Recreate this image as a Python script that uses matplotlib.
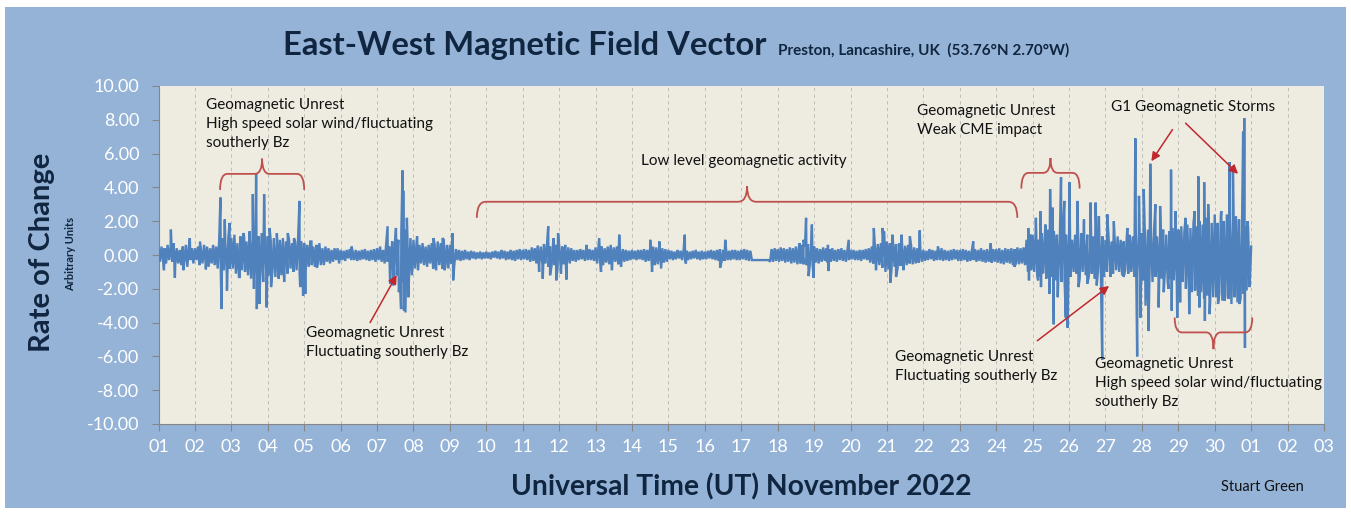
import matplotlib
matplotlib.use("Agg")
import matplotlib.pyplot as plt
import numpy as np
from matplotlib.path import Path
from matplotlib.patches import PathPatch, Rectangle

plt.rcParams['font.family'] = ['Lato', 'DejaVu Sans']

# --- data ----------------------------------------------------------------
# trace, 24 samples a day (hourly), one row per day
trace_nov01_07 = [
    0.3, -0.4, 0.5, -0.3, 0.4, -0.5, 0.6, -0.3, 0.5, -0.4, 0.7, -0.6, 0.4, -0.5, 0.3, -0.6, 0.5, -0.4, 0.6, -0.7, 0.5, -0.3, 0.4, -0.5,
    0.4, -0.3, 0.5, -0.6, 0.3, -0.5, 0.6, -0.4, 0.5, -0.7, 0.4, -0.5, 0.6, -0.6, 0.5, -0.8, 0.9, -0.7, 1.0, -0.9, 0.8, -1.1, 1.0, -0.8,
    1.0, -0.8, 1.2, -1.1, 0.7, -1.3, 1.1, -0.9, 1.3, -1.0, 0.8, -1.2, 1.2, -1.4, 1.0, -1.2, 1.4, -1.5, 1.1, -1.3, 1.3, -1.6, 1.2, -1.1,
    1.1, -1.2, 0.8, -1.0, 1.0, -1.3, 0.7, -1.1, 0.9, -1.2, 1.0, -0.9, 0.8, -1.1, 0.9, -0.8, 0.7, -1.0, 0.8, -0.9, 1.0, -1.1, 0.8, -1.2,
    0.7, -0.9, 0.6, -0.7, 0.8, -0.6, 0.5, -0.7, 0.6, -0.5, 0.7, -0.6, 0.4, -0.6, 0.5, -0.4, 0.4, -0.5, 0.3, -0.4, 0.4, -0.3, 0.4, -0.5,
    0.3, -0.3, 0.25, -0.35, 0.3, -0.2, 0.35, -0.3, 0.2, -0.3, 0.3, -0.35, 0.25, -0.3, 0.3, -0.25, 0.35, -0.3, 0.25, -0.35, 0.3, -0.3, 0.35, -0.4,
    0.4, -0.3, 0.5, -0.4, 0.3, -0.5, 0.6, -0.4, 0.5, -0.6, 0.8, -0.9, 1.0, -1.2, 0.9, -1.4, 1.3, -1.6, 1.5, -1.8, 1.2, -1.5, 1.0, -1.2,
]
trace_nov08_14 = [
    0.9, -0.8, 0.7, -0.9, 0.6, -0.5, 0.7, -0.6, 0.5, -0.7, 0.6, -0.5, 0.7, -0.8, 0.6, -0.7, 0.8, -0.6, 0.7, -0.8, 0.9, -0.7, 0.6, -0.8,
    0.6, -0.5, 0.4, -0.5, 0.35, -0.3, 0.3, -0.35, 0.25, -0.3, 0.3, -0.25, 0.2, -0.3, 0.25, -0.2, 0.2, -0.25, 0.15, -0.2, 0.2, -0.25, 0.15, -0.2,
    0.2, -0.2, 0.15, -0.25, 0.2, -0.15, 0.25, -0.2, 0.2, -0.25, 0.3, -0.2, 0.25, -0.3, 0.2, -0.25, 0.3, -0.3, 0.25, -0.35, 0.3, -0.25, 0.35, -0.3,
    0.3, -0.25, 0.35, -0.3, 0.3, -0.4, 0.45, -0.35, 0.4, -0.5, 0.55, -0.45, 0.5, -0.6, 0.65, -0.5, 0.6, -0.7, 0.5, -0.65, 0.7, -0.6, 0.6, -0.75,
    0.6, -0.7, 0.5, -0.55, 0.6, -0.5, 0.45, -0.5, 0.4, -0.35, 0.3, -0.4, 0.3, -0.3, 0.35, -0.25, 0.3, -0.35, 0.4, -0.3, 0.35, -0.3, 0.3, -0.35,
    0.45, -0.5, 0.55, -0.4, 0.5, -0.6, 0.4, -0.45, 0.5, -0.55, 0.6, -0.5, 0.45, -0.4, 0.5, -0.55, 0.4, -0.45, 0.35, -0.4, 0.3, -0.35, 0.25, -0.3,
    0.3, -0.25, 0.25, -0.3, 0.3, -0.25, 0.3, -0.3, 0.35, -0.4, 0.3, -0.35, 0.45, -0.5, 0.5, -0.6, 0.45, -0.55, 0.5, -0.5, 0.4, -0.45, 0.35, -0.4,
]
trace_nov15_21 = [
    0.3, -0.25, 0.25, -0.3, 0.2, -0.25, 0.3, -0.2, 0.25, -0.3, 0.3, -0.25, 0.25, -0.3, 0.2, -0.25, 0.25, -0.2, 0.3, -0.25, 0.2, -0.3, 0.25, -0.25,
    0.2, -0.25, 0.25, -0.2, 0.3, -0.25, 0.25, -0.3, 0.3, -0.35, 0.35, -0.4, 0.3, -0.35, 0.35, -0.3, 0.25, -0.3, 0.3, -0.25, 0.3, -0.3, 0.25, -0.3,
    0.3, -0.25, 0.35, -0.3, 0.3, -0.35, 0.25, -0.3, -0.3, -0.3, -0.3, -0.3, -0.3, -0.3, -0.3, -0.3, -0.3, -0.3, -0.3, -0.4, 0.35, -0.4, 0.4, -0.35,
    0.35, -0.4, 0.45, -0.35, 0.4, -0.45, 0.35, -0.4, 0.45, -0.5, 0.4, -0.45, 0.5, -0.55, 0.45, -0.5, 0.6, -0.55, 0.5, -0.6, 0.65, -0.7, 0.55, -0.6,
    0.5, -0.45, 0.4, -0.5, 0.35, -0.4, 0.45, -0.35, 0.4, -0.45, 0.35, -0.4, 0.4, -0.35, 0.3, -0.4, 0.35, -0.3, 0.4, -0.35, 0.3, -0.4, 0.35, -0.3,
    0.3, -0.25, 0.3, -0.3, 0.25, -0.3, 0.3, -0.35, 0.3, -0.25, 0.35, -0.3, 0.4, -0.45, 0.5, -0.5, 0.6, -0.55, 0.65, -0.6, 0.7, -0.75, 0.65, -0.8,
    0.8, -0.85, 0.7, -0.9, 0.75, -0.7, 0.65, -0.8, 0.7, -0.65, 0.6, -0.7, 0.55, -0.6, 0.6, -0.5, 0.5, -0.55, 0.45, -0.5, 0.4, -0.45, 0.35, -0.4,
]
trace_nov22_30 = [
    0.3, -0.35, 0.25, -0.3, 0.35, -0.25, 0.3, -0.35, 0.25, -0.3, 0.35, -0.3, 0.4, -0.35, 0.3, -0.3, 0.25, -0.35, 0.3, -0.3, 0.35, -0.25, 0.3, -0.35,
    0.3, -0.35, 0.35, -0.3, 0.3, -0.4, 0.25, -0.35, 0.3, -0.3, 0.35, -0.4, 0.3, -0.35, 0.4, -0.4, 0.3, -0.45, 0.35, -0.4, 0.3, -0.45, 0.35, -0.4,
    0.35, -0.45, 0.4, -0.5, 0.3, -0.55, 0.4, -0.45, 0.35, -0.5, 0.4, -0.6, 0.35, -0.5, 0.45, -0.55, 0.4, -0.5, 0.45, -0.6, 0.9, -1.0, 1.1, -0.9,
    1.2, -1.0, 1.4, -1.2, 0.9, -1.3, 1.3, -1.1, 1.1, -1.4, 1.5, -1.2, 1.0, -1.3, 1.4, -1.5, 1.2, -1.1, 1.3, -1.6, 1.5, -1.3, 1.2, -1.5,
    1.1, -1.3, 0.9, -1.0, 1.2, -1.1, 1.0, -1.4, 1.3, -1.0, 0.9, -1.2, 1.2, -1.3, 1.0, -1.1, 1.1, -1.4, 1.3, -1.0, 1.0, -1.2, 1.1, -1.3,
    0.9, -1.0, 1.1, -0.8, 0.8, -1.1, 1.0, -0.9, 1.1, -1.0, 0.9, -1.2, 0.8, -0.9, 1.0, -1.1, 1.2, -1.0, 1.1, -1.3, 1.3, -1.2, 1.4, -1.5,
    1.3, -1.5, 1.1, -1.3, 1.5, -1.2, 1.2, -1.6, 1.4, -1.3, 1.1, -1.5, 1.3, -1.4, 1.5, -1.2, 1.2, -1.6, 1.4, -1.4, 1.6, -1.5, 1.3, -1.7,
    1.5, -1.8, 1.7, -1.6, 1.4, -2.0, 1.8, -1.9, 1.6, -2.2, 1.9, -2.1, 1.7, -2.4, 2.0, -2.2, 1.8, -2.6, 2.2, -2.4, 2.1, -2.7, 1.9, -2.5,
    2.1, -2.5, 1.9, -2.3, 2.3, -2.7, 2.0, -2.4, 2.4, -2.6, 2.2, -2.9, 2.0, -2.5, 2.3, -2.8, 2.1, -2.6, 1.9, -2.3, 1.7, -2.1, 1.6, -1.9,
]

# individual spikes: days after 1 Nov 00:00 UT and value
spike_day = [
    0.15, 0.34, 0.45, 0.68, 0.86,
    1.14, 1.30, 1.70, 1.73, 1.82, 1.88, 1.95,
    2.23, 2.35, 2.50, 2.59, 2.62, 2.68, 2.70, 2.77, 2.90, 2.97,
    3.05, 3.09, 3.25, 3.30, 3.45, 3.55, 3.72, 3.87, 3.89, 3.97,
    4.03, 4.20, 4.35, 5.30,
    6.29, 6.36, 6.45, 6.52, 6.60, 6.66, 6.70, 6.72, 6.74, 6.78, 6.82, 6.86,
    7.10, 7.55, 7.62, 7.80, 7.85, 8.07, 8.09,
    10.45, 10.55, 10.70, 10.75, 10.85, 10.92, 10.97,
    11.05, 11.20, 11.75, 12.10, 12.15, 12.45, 12.65, 12.70,
    13.50, 13.55, 13.75, 13.80, 14.45, 14.48, 15.42, 15.56,
    17.60, 17.71, 17.78, 17.85, 17.94, 17.99, 18.38, 18.40, 18.95,
    19.64, 19.70, 19.88, 19.92, 19.96,
    20.09, 20.15, 20.25, 20.40, 20.45, 20.63, 20.90, 21.40, 22.37, 22.85,
    23.50, 23.88, 23.90, 23.95,
    24.09, 24.15, 24.21, 24.23, 24.35, 24.46, 24.48, 24.55, 24.58, 24.69,
    24.78, 24.87, 24.91, 24.96,
    25.01, 25.23, 25.26, 25.41, 25.50, 25.59, 25.73, 25.76, 25.82, 25.91,
    26.05, 26.14, 26.23, 26.50, 26.60, 26.82, 26.87, 26.92, 26.96,
    27.05, 27.10, 27.18, 27.23, 27.37, 27.46, 27.50, 27.60, 27.73, 27.80,
    27.82, 27.92, 27.97,
    28.05, 28.20, 28.30, 28.45, 28.55, 28.58, 28.71, 28.73, 28.82, 28.86,
    29.00, 29.09, 29.18, 29.27, 29.41, 29.50, 29.55, 29.68, 29.78, 29.81,
    29.83, 29.90, 29.95, 30.00,
]
spike_value = [
    -0.9, 1.5, -1.35, -0.9, 1.0,
    0.8, -0.85, 3.4, -3.2, 2.1, -2.1, 1.9,
    -1.3, 1.1, 1.4, 3.6, -2.0, 4.8, -3.2, -2.9, 3.6, -3.1,
    1.6, -1.9, 1.3, -1.4, -1.6, 1.3, 1.0, 3.2, -1.9, -2.4,
    -2.3, 0.8, -0.75, 0.5,
    1.7, -1.7, -1.8, 1.6, -2.2, -3.2, 5.0, 3.8, -3.3, -3.4, 2.2, -2.5,
    1.1, 1.0, -0.9, 1.0, -0.9, 1.3, -1.5,
    -1.0, -1.4, 1.7, -1.2, 1.0, -1.5, 1.3,
    -1.1, -1.45, 0.6, 1.0, -1.0, -0.9, 1.2, -0.7,
    0.9, -1.0, 0.8, -0.8, 1.2, -0.5, -0.75, 0.9,
    0.7, 0.9, 2.2, -1.25, 1.8, -1.35, 0.6, -0.95, 0.9,
    1.6, -0.9, 1.6, 1.4, -1.0,
    -1.65, 1.2, -1.3, 1.2, -0.9, 1.1, 1.45, 0.5, 0.8, 0.7,
    -0.7, 1.6, -1.5, 1.2,
    2.2, -1.5, 2.6, -1.9, 1.8, -2.3, 3.9, 2.8, -4.1, -2.5,
    4.6, 3.2, -3.7, -4.3,
    4.3, 3.2, -1.9, 2.1, -1.7, 3.1, 3.1, -1.8, 2.3, -6.2,
    2.4, -1.3, 2.0, -1.3, 1.6, 6.9, -6.0, 3.5, -3.7,
    3.9, -3.0, -4.5, 5.4, 3.0, -3.1, 2.9, -2.2, -2.0, 5.05,
    -3.3, 2.6, -3.7,
    -2.8, 2.2, -3.5, 2.6, 4.65, -3.1, 4.3, -3.9, 3.0, -3.5,
    2.4, -2.9, 2.6, -2.7, 5.5, 4.95, -2.0, -2.9, 7.3, 8.1,
    -5.5, 2.0, -1.5, 0.5,
]

tick_labels = ['%02d' % d for d in range(1, 31)] + ['01', '02', '03']
samples_per_day = 24

# --- colours -------------------------------------------------------------
BLUE_BG = '#95B3D7'
PLOT_BG = '#EEECE1'
LINE = '#4F81BD'
NAVY = '#10253F'
RED = '#C0504D'
ARROW = '#C0282D'
GREY = '#868686'

W, H = 1351, 515
fig = plt.figure(figsize=(W / 100, H / 100), dpi=100, facecolor='white')
fig.patches.append(Rectangle((5 / W, 7 / H), 1341 / W, 501 / H,
                             transform=fig.transFigure, facecolor=BLUE_BG,
                             edgecolor='none', zorder=-10))


def px(x, y):
    # pixel position in the picture (from top left) -> figure fraction
    return x / W, 1 - y / H


ax = fig.add_axes([158.5 / W, (H - 424) / H, (1324 - 158.5) / W, (424 - 86) / H])
ax.set_facecolor(PLOT_BG)

# signal: hourly trace with the spikes merged in by time
trace = np.array(trace_nov01_07 + trace_nov08_14 + trace_nov15_21 + trace_nov22_30)
trace_t = np.arange(len(trace)) / samples_per_day
t = np.concatenate([trace_t, spike_day])
v = np.concatenate([trace, spike_value])
order = np.argsort(t, kind='stable')
ax.plot(t[order], v[order], color=LINE, lw=1.7, solid_joinstyle='miter', zorder=3)

ax.set_xlim(0, 32)
ax.set_ylim(-10, 10)
ax.set_xticks(np.arange(len(tick_labels)))
ax.set_xticklabels(tick_labels)
ax.set_yticks(np.arange(-10, 11, 2))
ax.yaxis.set_major_formatter(lambda val, pos: f'{val:.2f}')
ax.tick_params(axis='y', colors=GREY, labelcolor='white', labelsize=13,
               length=5, width=0.8, pad=9)
ax.tick_params(axis='x', colors=GREY, labelcolor='white', labelsize=13,
               length=5, width=0.8, pad=6)
ax.grid(axis='x', color='#B4B4B4', ls=(0, (4, 4)), lw=0.6)
for side in ['top', 'right']:
    ax.spines[side].set_visible(False)
for side in ['left', 'bottom']:
    ax.spines[side].set_color(GREY)
    ax.spines[side].set_linewidth(0.8)


def brace(x0, x1, y, y_end, y_tip, rx):
    xm = (x0 + x1) / 2
    verts = [(x0, y_end), (x0, y), (x0 + rx, y), (xm - rx, y), (xm, y), (xm, y_tip),
             (xm, y), (xm + rx, y), (x1 - rx, y), (x1, y), (x1, y_end)]
    codes = [Path.MOVETO, Path.CURVE3, Path.CURVE3, Path.LINETO, Path.CURVE3, Path.CURVE3,
             Path.CURVE3, Path.CURVE3, Path.LINETO, Path.CURVE3, Path.CURVE3]
    ax.add_patch(PathPatch(Path(verts, codes), fill=False, edgecolor=RED, lw=1.3, zorder=4))


brace(1.69, 4.0, 4.8, 3.85, 5.7, 0.2)
brace(8.74, 23.58, 3.15, 2.2, 4.07, 0.25)
brace(23.69, 25.29, 4.86, 3.93, 5.74, 0.2)
brace(27.9, 30.03, -4.58, -3.7, -5.57, 0.2)


def arrow(tail, head):
    ax.annotate('', xy=head, xytext=tail,
                arrowprops=dict(arrowstyle='-|>', color=ARROW, lw=1.1,
                                mutation_scale=13, shrinkA=0, shrinkB=0), zorder=5)


arrow((5.81, -4.0), (6.54, -1.18))
arrow((24.13, -5.07), (26.1, -1.83))
arrow((27.84, 7.42), (27.26, 5.55))
arrow((28.2, 7.8), (29.64, 4.8))

note = dict(fontsize=11, color='#111111', ha='left', va='top', linespacing=1.45)
fig.text(*px(205.6, 98), 'Geomagnetic Unrest\nHigh speed solar wind/fluctuating\nsoutherly Bz', **note)
fig.text(*px(641, 154), 'Low level geomagnetic activity', **note)
fig.text(*px(917, 104), 'Geomagnetic Unrest\nWeak CME impact', **note)
fig.text(*px(1111, 100), 'G1 Geomagnetic Storms', **note)
fig.text(*px(306, 326), 'Geomagnetic Unrest\nFluctuating southerly Bz', **note)
fig.text(*px(895, 350), 'Geomagnetic Unrest\nFluctuating southerly Bz', **note)
fig.text(*px(1095, 357), 'Geomagnetic Unrest\nHigh speed solar wind/fluctuating\nsoutherly Bz', **note)

# titles and axis labels
fig.text(*px(283, 55), 'East-West Magnetic Field Vector', fontsize=23.6, fontweight='bold',
         color=NAVY, ha='left', va='baseline')
fig.text(*px(778, 55), 'Preston, Lancashire, UK  (53.76°N 2.70°W)', fontsize=11,
         fontweight='bold', color=NAVY, ha='left', va='baseline')
fig.text(*px(42, 252), 'Rate of Change', fontsize=21, fontweight='bold', color=NAVY,
         rotation=90, ha='center', va='center')
fig.text(*px(71, 254), 'Arbitrary Units', fontsize=8, fontweight='bold', color=NAVY,
         rotation=90, ha='center', va='center')
fig.text(*px(741, 487), 'Universal Time (UT) November 2022', fontsize=20.3, fontweight='bold',
         color=NAVY, ha='center', va='center')
fig.text(*px(1262, 487), 'Stuart Green', fontsize=10.5, color='#111111', ha='center', va='center')

fig.savefig('out.png', dpi=100, facecolor=fig.get_facecolor())
